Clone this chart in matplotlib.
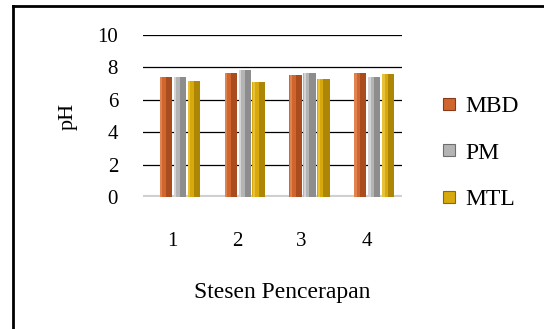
import numpy as np
import matplotlib
matplotlib.use("Agg")
import matplotlib.pyplot as plt
from matplotlib.lines import Line2D

# pH per sampling station
stations = ["1", "2", "3", "4"]
series = ["MBD", "PM", "MTL"]
mbd = [7.40, 7.65, 7.50, 7.65]
pm = [7.40, 7.82, 7.65, 7.40]
mtl = [7.15, 7.08, 7.25, 7.57]
yticks = [0, 2, 4, 6, 8, 10]

# face colour, dark side, light edge for a faux-3D bevel
COLORS = {"MBD": ("#D0652E", "#8A3A14", "#E89060"),
          "PM": ("#B4B4B4", "#6E6E6E", "#E2E2E2"),
          "MTL": ("#D7A90C", "#8C6A00", "#F0CC50")}

plt.rcParams["font.family"] = ["Liberation Serif", "DejaVu Serif"]

fig = plt.figure(figsize=(5.44, 3.29), dpi=100)
ax = fig.add_axes([0.263, 0.401, 0.476, 0.493])

x = np.arange(len(stations))
w = 0.19
gap = 0.025
shift = 0.12   # 3D-look: bars sit a bit right of the category labels
for i, (name, vals) in enumerate(zip(series, (mbd, pm, mtl))):
    face, dark, light = COLORS[name]
    pos = x + shift + (i - 1) * (w + gap)
    ax.bar(pos, vals, width=w, color=face, zorder=3, linewidth=0)
    ax.bar(pos + w * 0.25, vals, width=w * 0.5, color=dark, alpha=0.55, zorder=4, linewidth=0)
    ax.bar(pos - w * 0.38, vals, width=w * 0.18, color=light, alpha=0.7, zorder=4, linewidth=0)

ax.set_xlim(-0.45, len(stations) - 0.45)
ax.set_ylim(0, 10)
ax.set_yticks(yticks)
ax.set_yticklabels([str(t) for t in yticks], fontsize=15)
ax.set_xticks(x)
ax.set_xticklabels(stations, fontsize=15)
ax.tick_params(axis="y", length=0, pad=18)
ax.tick_params(axis="x", length=0, pad=25)
for t in yticks[1:]:
    ax.axhline(t, color="black", lw=0.9, zorder=1)
ax.axhline(0, color="#D0D0D0", lw=3, zorder=2)
for s in ax.spines.values():
    s.set_visible(False)

ax.set_ylabel("pH", fontsize=16, labelpad=14)
ax.set_xlabel("Stesen Pencerapan", fontsize=17)
ax.xaxis.set_label_coords(0.537, -0.525)

handles = [Line2D([], [], marker="s", ls="", markersize=9, color=COLORS[n][0],
                  markeredgecolor=COLORS[n][1], markeredgewidth=0.8) for n in series]
fig.legend(handles, series, loc="center left", bbox_to_anchor=(0.79, 0.535),
           frameon=False, fontsize=17, handlelength=0.8, handletextpad=0.3,
           labelspacing=1.05, borderaxespad=0)

# outer frame (only left and top edges fall inside the image)
fig.add_artist(Line2D([13 / 544, 13 / 544], [0, 1 - 6 / 329], color="black", lw=2))
fig.add_artist(Line2D([13 / 544, 1], [1 - 6 / 329, 1 - 6 / 329], color="black", lw=2))

fig.savefig("out.png", dpi=100)
